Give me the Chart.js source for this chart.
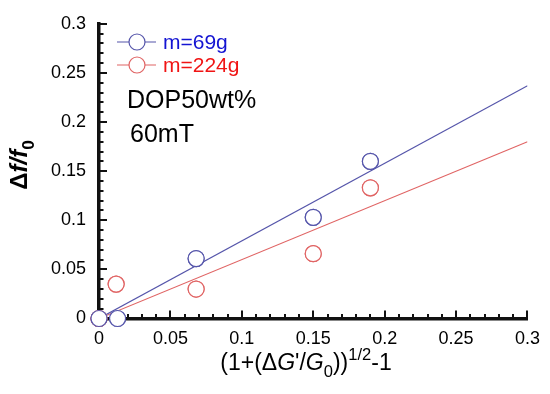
<!DOCTYPE html>
<html><head><meta charset="utf-8">
<script src="https://cdn.jsdelivr.net/npm/chart.js@4/dist/chart.umd.min.js"></script>
<style>html,body{margin:0;padding:0;background:#fff}#wrap{width:550px;height:394px;position:relative}canvas{display:block}</style>
</head><body><div id="wrap"><canvas id="c" width="550" height="394" style="width:550px;height:394px"></canvas></div>
<script>
const xTickLabels = ['0','0.05','0.1','0.15','0.2','0.25','0.3'];
const yTickLabels = ['0','0.05','0.1','0.15','0.2','0.25','0.3'];
const seriesNames = ['m=69g','m=224g'];
const xValues69 = [0, 0.013, 0.068, 0.150, 0.190];
const yValues69 = [0, 0, 0.061, 0.103, 0.160];
const xValues224 = [0, 0.012, 0.068, 0.150, 0.190];
const yValues224 = [0, 0.035, 0.030, 0.066, 0.133];
const fitX = [0, 0.3];
const fit69 = [0, 0.237];
const fit224 = [0, 0.180];
const annotationLines = ['DOP50wt%','60mT'];

const BLUE = '#5555aa', RED = '#e06464';
const BLUE_TXT = '#1414d2', RED_TXT = '#f01414';
const AXIS = '#111111';
const FONT = '"Liberation Sans", Arial, sans-serif';

function pts(xs, ys){ return xs.map((x,i)=>({x:x, y:ys[i]})); }

function drawRich(ctx, parts, x, y, size, align, weight){
  weight = weight || 'normal';
  const fontFor = p => {
    const s = (p.sub||p.sup) ? size*0.72 : size;
    return (p.italic?'italic ':'') + weight + ' ' + s + 'px ' + FONT;
  };
  let total = 0;
  const widths = parts.map(p=>{ ctx.font = fontFor(p); const w = ctx.measureText(p.t).width; total += w; return w; });
  let cx = align==='center' ? x - total/2 : x;
  ctx.textBaseline = 'alphabetic';
  ctx.textAlign = 'left';
  parts.forEach((p,i)=>{
    ctx.font = fontFor(p);
    let dy = 0;
    if (p.sub) dy = size*0.3;
    if (p.sup) dy = -size*0.42;
    ctx.fillText(p.t, cx, y+dy);
    cx += widths[i];
  });
}

function drawTicks(chart){
  const ctx = chart.ctx, xs = chart.scales.x, ys = chart.scales.y;
  const a = chart.chartArea;
  ctx.save();
  ctx.globalAlpha = 1;
  ctx.fillStyle = AXIS;
  for (let i=0;i<=30;i++){
    const major = i%5===0;
    const len = major ? 8 : 4.5;
    const v = i/100;
    const px = Math.round(xs.getPixelForValue(v));
    const py = Math.round(ys.getPixelForValue(v));
    ctx.fillRect(px-1, a.bottom-len, 2, len);
    ctx.fillRect(a.left, py-1, len, 2);
  }
  ctx.restore();
}

const axesPlugin = {
  id:'axesPlugin',
  afterDraw(chart){
    const ctx = chart.ctx;
    drawTicks(chart);
    // redraw the scatter markers (library point elements) so they sit above the ticks
    [1, 0].forEach(di => {
      const meta = chart.getDatasetMeta(di);
      ctx.save();
      meta.data.forEach(el => el.draw(ctx, chart.chartArea));
      ctx.restore();
    });
    ctx.save();
    const rows = [{name:seriesNames[0], c:BLUE, t:BLUE_TXT, y:42},{name:seriesNames[1], c:RED, t:RED_TXT, y:65}];
    rows.forEach(r=>{
      ctx.strokeStyle = r.c; ctx.lineWidth = 1.2;
      ctx.beginPath(); ctx.moveTo(117, r.y); ctx.lineTo(156, r.y); ctx.stroke();
      ctx.beginPath(); ctx.arc(137, r.y, 8, 0, Math.PI*2); ctx.fillStyle='#fff'; ctx.fill(); ctx.stroke();
      ctx.fillStyle = r.t; ctx.font = '21px ' + FONT; ctx.textAlign='left'; ctx.textBaseline='middle';
      ctx.fillText(r.name, 163, r.y+1);
    });
    ctx.fillStyle = '#000'; ctx.font = '25px ' + FONT; ctx.textAlign='left'; ctx.textBaseline='alphabetic';
    ctx.fillText(annotationLines[0], 127, 108);
    ctx.fillText(annotationLines[1], 130, 142);
    ctx.fillStyle = '#000';
    drawRich(ctx, [{t:'(1+(\u0394'},{t:'G',italic:true},{t:'\'/'},{t:'G',italic:true},{t:'0',sub:true},{t:'))'},{t:'1/2',sup:true},{t:'-1'}], 306, 370, 23, 'center');
    ctx.save();
    ctx.translate(27, 165);
    ctx.rotate(-Math.PI/2);
    drawRich(ctx, [{t:'\u0394'},{t:'f/f',italic:true},{t:'0',sub:true}], 0, 0, 24, 'center', 'bold');
    ctx.restore();
    ctx.restore();
  }
};

new Chart(document.getElementById('c'), {
  data: {
    datasets: [
      {type:'scatter', label:seriesNames[0], data:pts(xValues69, yValues69), borderColor:BLUE, backgroundColor:'#fff', pointBackgroundColor:'#fff', pointRadius:8, pointBorderWidth:1.2, showLine:false, clip:false},
      {type:'scatter', label:seriesNames[1], data:pts(xValues224, yValues224), borderColor:RED, backgroundColor:'#fff', pointBackgroundColor:'#fff', pointRadius:8, pointBorderWidth:1.2, showLine:false, clip:false},
      {type:'line', label:'fit 69', data:pts(fitX, fit69), borderColor:BLUE, borderWidth:1.1, pointRadius:0, fill:false},
      {type:'line', label:'fit 224', data:pts(fitX, fit224), borderColor:RED, borderWidth:1.1, pointRadius:0, fill:false}
    ]
  },
  options: {
    responsive:false, maintainAspectRatio:false, animation:false, devicePixelRatio:1,
    layout:{padding:{left:0, right:17.5, top:12.2, bottom:0}},
    plugins:{legend:{display:false}, tooltip:{enabled:false}},
    scales:{
      x:{type:'linear', min:0, max:0.3,
        grid:{display:false, drawTicks:false}, border:{display:true, width:3.5, color:AXIS},
        ticks:{stepSize:0.05, padding:10, maxRotation:0, minRotation:0, autoSkip:false, color:'#000', font:{family:FONT, size:18},
          callback:(v,i)=>xTickLabels[i]},
        afterFit:s=>{s.height = 75.5;}
      },
      y:{type:'linear', min:0, max:0.3,
        grid:{display:false, drawTicks:false}, border:{display:true, width:3.5, color:AXIS},
        ticks:{stepSize:0.05, padding:13, autoSkip:false, color:'#000', font:{family:FONT, size:18},
          callback:(v,i)=>yTickLabels[i]},
        afterFit:s=>{s.width = 99;}
      }
    }
  },
  plugins:[axesPlugin]
});
</script>
</body></html>
